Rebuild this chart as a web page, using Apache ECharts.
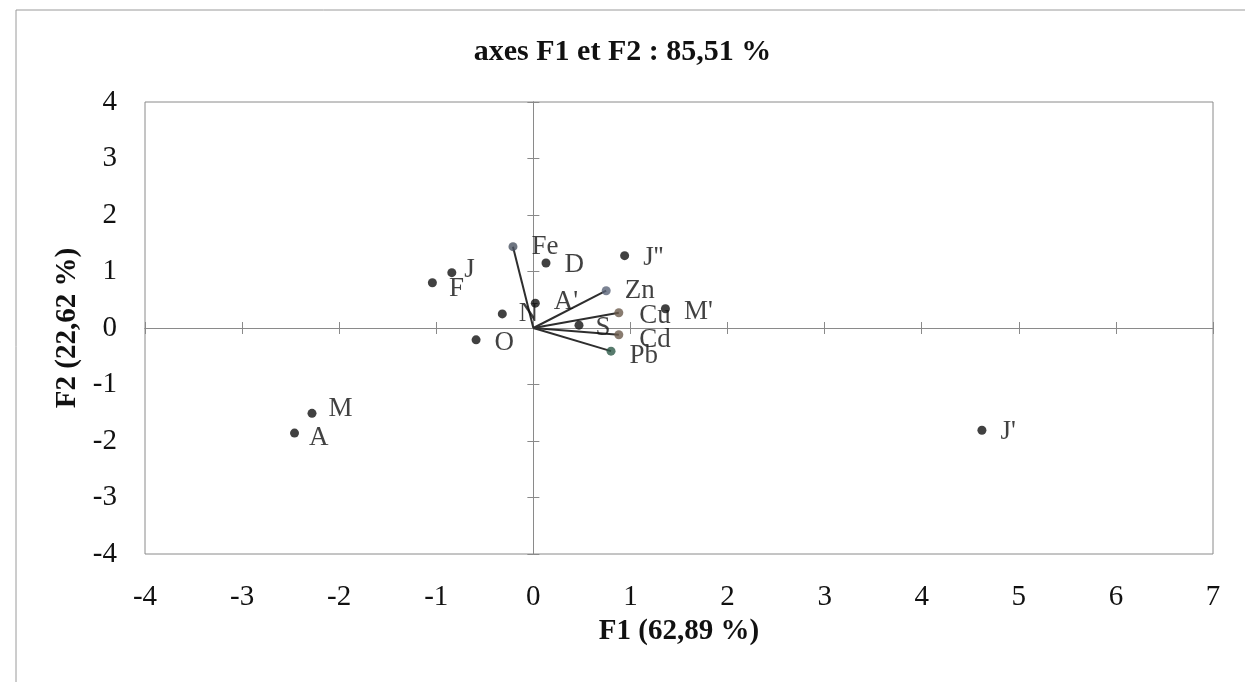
<!DOCTYPE html>
<html>
<head>
<meta charset="utf-8">
<script src="https://cdn.jsdelivr.net/npm/echarts@6/dist/echarts.min.js"></script>
<style>
  html, body { margin: 0; padding: 0; background: #fff; }
  #chart { width: 1245px; height: 682px; }
</style>
</head>
<body>
<div id="chart"></div>
<script>
// individus (points)
var pointNames = ['D', "J''", 'F', 'J', 'N', "A'", 'O', 'S', "M'", 'M', 'A', "J'"];
var pointX = [0.13, 0.94, -1.04, -0.84, -0.32, 0.02, -0.59, 0.47, 1.36, -2.28, -2.46, 4.62];
var pointY = [1.15, 1.28, 0.80, 0.98, 0.25, 0.44, -0.21, 0.05, 0.34, -1.51, -1.86, -1.81];

// variables (vecteurs depuis l'origine)
var vecNames = ['Fe', 'Zn', 'Cu', 'Cd', 'Pb'];
var vecX = [-0.21, 0.75, 0.88, 0.88, 0.80];
var vecY = [1.44, 0.66, 0.27, -0.12, -0.41];

var xTicks = [-4, -3, -2, -1, 0, 1, 2, 3, 4, 5, 6, 7];
var yTicks = [-4, -3, -2, -1, 0, 1, 2, 3, 4];

// decalages des etiquettes (px)
var pointLabelOffset = {
    'D': [0, 2], "J''": [0, 2], 'F': [-2, 6], 'J': [-6, -3], 'N': [-2, 0], "A'": [0, -1],
    'O': [0, 3], 'S': [-2, 3], "M'": [0, 3], 'M': [-2, -4], 'A': [-4, 5], "J'": [0, 2]
};
var vecLabelOffset = { 'Fe': [0, 0], 'Zn': [0, 0], 'Cu': [2, 3], 'Cd': [2, 5], 'Pb': [0, 5] };
var vecColors = { 'Fe': '#4a5262', 'Zn': '#5a6478', 'Cu': '#6b5b4c', 'Cd': '#6b5b4c', 'Pb': '#2d5a48' };

var serif = '"Liberation Serif", "Times New Roman", serif';

var pointData = pointNames.map(function (n, i) {
    return {
        name: n, value: [pointX[i], pointY[i]],
        label: { offset: pointLabelOffset[n] }
    };
});
var vecLines = vecNames.map(function (n, i) {
    return { coords: [[0, 0], [vecX[i], vecY[i]]] };
});
var vecTips = vecNames.map(function (n, i) {
    return {
        name: n, value: [vecX[i], vecY[i]],
        itemStyle: { color: vecColors[n] },
        label: { offset: vecLabelOffset[n] }
    };
});

function baseAxis(ticks) {
    return {
        type: 'value',
        min: ticks[0],
        max: ticks[ticks.length - 1],
        interval: 1,
        splitLine: { show: false }
    };
}
// axe gradue (etiquettes en bas / a gauche)
var xLabelAxis = Object.assign(baseAxis(xTicks), {
    position: 'bottom',
    axisLine: { show: false, onZero: false },
    axisTick: { show: false },
    axisLabel: { margin: 29, color: '#111', fontFamily: serif, fontSize: 29 },
    name: 'F1 (62,89 %)',
    nameLocation: 'middle',
    nameGap: 61,
    nameTextStyle: { fontFamily: serif, fontSize: 29, fontWeight: 'bold', color: '#111' }
});
var yLabelAxis = Object.assign(baseAxis(yTicks), {
    position: 'left',
    axisLine: { show: false, onZero: false },
    axisTick: { show: false },
    axisLabel: { margin: 28, color: '#111', fontFamily: serif, fontSize: 29 },
    name: 'F2 (22,62 %)',
    nameLocation: 'middle',
    nameGap: 62,
    nameTextStyle: { fontFamily: serif, fontSize: 29, fontWeight: 'bold', color: '#111' }
});
// axes passant par zero, graduations en croix
function zeroAxis(ticks, pos, inside) {
    return Object.assign(baseAxis(ticks), {
        position: pos,
        axisLine: { show: true, onZero: true, lineStyle: { color: '#8a8a8a', width: 1 } },
        axisTick: { show: true, inside: inside, length: 6, lineStyle: { color: '#8a8a8a', width: 1 } },
        axisLabel: { show: false }
    });
}

var chart = echarts.init(document.getElementById('chart'));
chart.setOption({
    backgroundColor: '#fff',
    animation: false,
    title: {
        text: 'axes F1 et F2 : 85,51 %',
        left: 'center',
        top: 32,
        textStyle: { fontFamily: serif, fontSize: 30, fontWeight: 'bold', color: '#111' }
    },
    graphic: [{
        type: 'rect',
        shape: { x: 16, y: 10, width: 1300, height: 720 },
        style: { fill: 'none', stroke: '#9a9a9a', lineWidth: 1 },
        silent: true
    }],
    grid: {
        left: 145, right: 32, top: 102, bottom: 128,
        show: true,
        borderColor: '#8a8a8a',
        borderWidth: 1
    },
    xAxis: [xLabelAxis, zeroAxis(xTicks, 'bottom', false), zeroAxis(xTicks, 'bottom', true)],
    yAxis: [yLabelAxis, zeroAxis(yTicks, 'left', false), zeroAxis(yTicks, 'left', true)],
    series: [
        {
            type: 'lines',
            coordinateSystem: 'cartesian2d',
            xAxisIndex: 0, yAxisIndex: 0,
            lineStyle: { color: '#2e2e2e', width: 2, opacity: 1 },
            data: vecLines,
            z: 3
        },
        {
            type: 'scatter',
            xAxisIndex: 0, yAxisIndex: 0,
            symbolSize: 9,
            data: vecTips,
            label: {
                show: true, position: 'right', distance: 14,
                formatter: '{b}', fontFamily: serif, fontSize: 27, color: '#111'
            },
            z: 4
        },
        {
            type: 'scatter',
            xAxisIndex: 0, yAxisIndex: 0,
            symbolSize: 9,
            itemStyle: { color: '#111' },
            data: pointData,
            label: {
                show: true, position: 'right', distance: 14,
                formatter: '{b}', fontFamily: serif, fontSize: 27, color: '#111'
            },
            z: 5
        }
    ]
});
</script>
</body>
</html>
